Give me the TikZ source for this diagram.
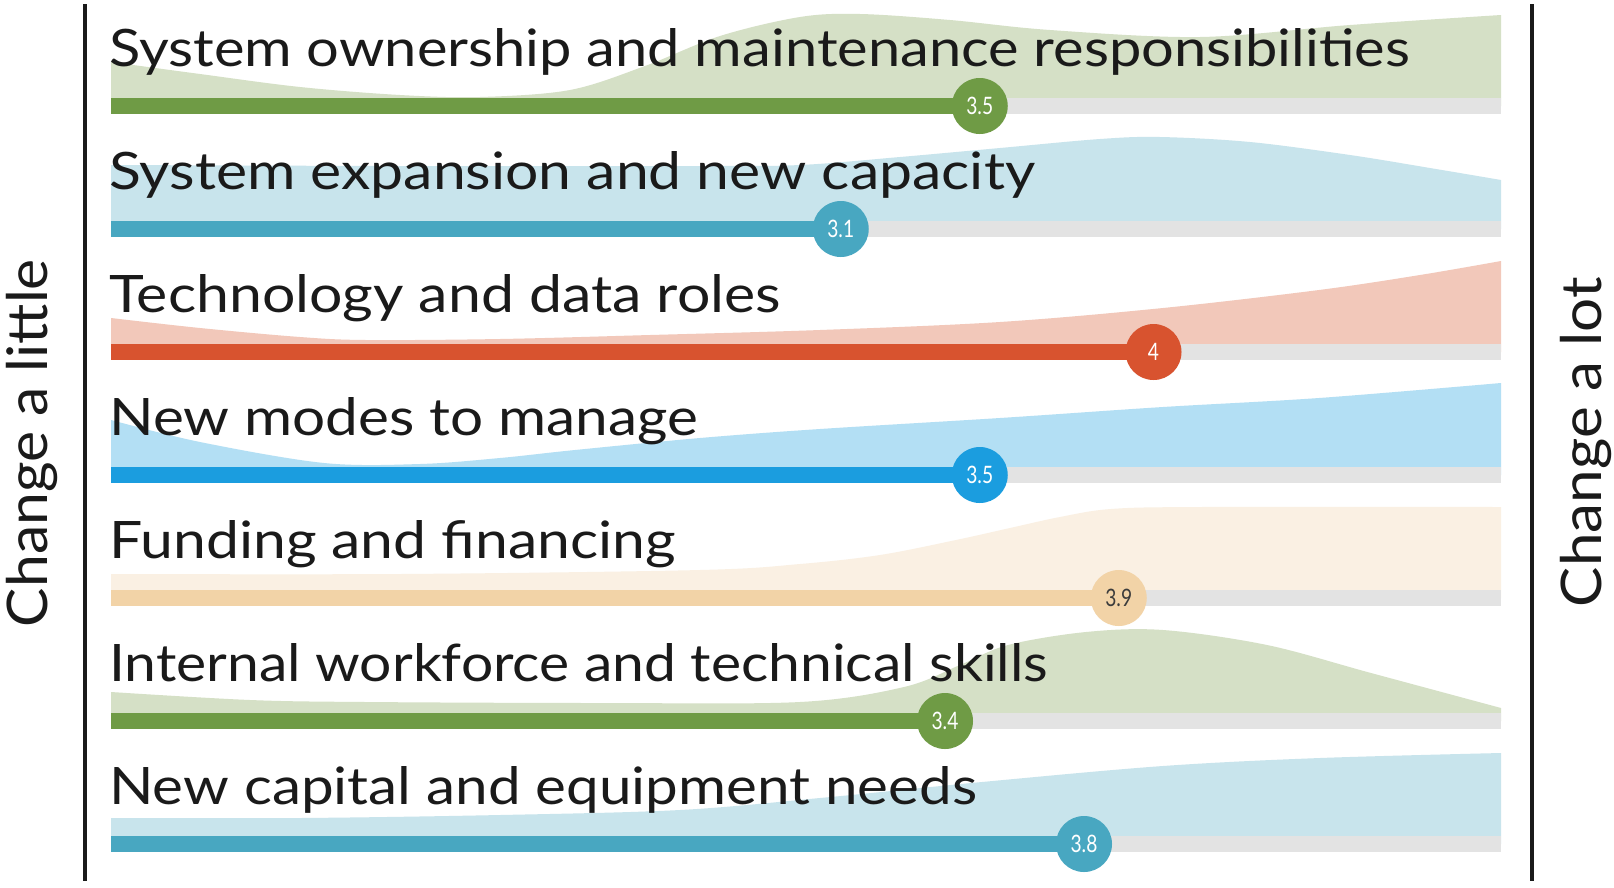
\documentclass[tikz,border=0pt]{standalone}
\usepackage{fontspec}
\setmainfont{Lato}
\usepackage{graphicx}
\definecolor{ink}{HTML}{1A1A1A}
\definecolor{trackgray}{HTML}{E3E3E3}
\definecolor{fgreen}{HTML}{D5E0C6}
\definecolor{bgreen}{HTML}{6F9B45}
\definecolor{fteal}{HTML}{C8E4EC}
\definecolor{bteal}{HTML}{48A7C1}
\definecolor{fred}{HTML}{F2C8BA}
\definecolor{bred}{HTML}{D8532F}
\definecolor{fblue}{HTML}{B3DFF4}
\definecolor{bblue}{HTML}{1B9DDF}
\definecolor{fpeach}{HTML}{FAF0E3}
\definecolor{bpeach}{HTML}{F2D3A7}
\newcommand\rowfont{\fontsize{51.6}{60}\selectfont}
\newcommand\sidefont{\fontsize{56}{64}\selectfont}
\newcommand\valfont{\fontsize{24}{26}\selectfont}
\newcommand\val[1]{\scalebox{0.8}[1]{#1}}
\tikzset{
  lbl/.style={anchor=base west, inner sep=0pt, text=ink, font=\rowfont},
  sidelbl/.style={inner sep=0pt, text=ink, font=\sidefont, rotate=90, anchor=base},
  valnode/.style={circle, inner sep=0pt, minimum size=56pt, font=\valfont, text=white},
  axisline/.style={draw=ink, line width=3.2pt},
  smoothfill/.style={smooth, tension=0.55}
}
\begin{document}
\begin{tikzpicture}[x=1pt,y=-1pt]
\useasboundingbox (0,0) rectangle (1614,887);
\fill[white] (0,0) rectangle (1614,887);

% ---------- density fills ----------
\fill[fgreen] (111,106) -- plot[smoothfill] coordinates {(111,62) (200,74) (300,87) (400,95) (480,97) (570,90) (645,66) (720,36) (800,17) (860,14) (950,20) (1050,30) (1200,37) (1350,25) (1501,15)} -- (1501,106) -- cycle;
\fill[fteal] (111,229) -- plot[smoothfill] coordinates {(111,165) (400,166) (700,166) (800,165) (900,157) (1000,148) (1100,139) (1160,137) (1250,142) (1350,155) (1430,168) (1501,180)} -- (1501,229) -- cycle;
\fill[fred] (111,352) -- plot[smoothfill] coordinates {(111,318) (200,328) (300,337) (366,340) (500,339) (650,335) (820,330) (1000,322) (1163,308) (1319,290) (1420,275) (1501,261)} -- (1501,352) -- cycle;
\fill[fblue] (111,475) -- plot[smoothfill] coordinates {(111,420) (200,442) (324,463) (420,464) (500,458) (575,450) (700,438) (820,429) (1000,418) (1163,407) (1319,398) (1501,383)} -- (1501,475) -- cycle;
\fill[fpeach] (111,598) -- plot[smoothfill] coordinates {(111,574) (400,574) (700,570) (800,564) (880,555) (956,540) (1010,528) (1060,517) (1111,509) (1200,507) (1501,507)} -- (1501,598) -- cycle;
\fill[fgreen] (111,721) -- plot[smoothfill] coordinates {(111,692) (250,700) (366,702) (600,703) (800,702) (904,687) (960,665) (1008,645) (1086,632) (1163,630) (1267,645) (1371,673) (1501,708)} -- (1501,721) -- cycle;
\fill[fteal] (111,844) -- plot[smoothfill] coordinates {(111,818) (300,818) (500,815) (680,810) (820,798) (982,782) (1163,766) (1320,758) (1501,753)} -- (1501,844) -- cycle;

% ---------- tracks ----------
\foreach \c in {106,229,352,475,598,721,844}
  \fill[trackgray] (111,\c-8) rectangle (1501,\c+8);

% ---------- value bars ----------
\fill[bgreen] (111,98)  rectangle (979.75,114);
\fill[bteal]  (111,221) rectangle (840.75,237);
\fill[bred]   (111,344) rectangle (1153.5,360);
\fill[bblue]  (111,467) rectangle (979.75,483);
\fill[bpeach] (111,590) rectangle (1118.75,606);
\fill[bgreen] (111,713) rectangle (945,729);
\fill[bteal]  (111,836) rectangle (1084,852);

% ---------- value markers ----------
\node[valnode, fill=bgreen] (v1) at (979.75,106) {\val{3.5}};
\node[valnode, fill=bteal]  (v2) at (840.75,229) {\val{3.1}};
\node[valnode, fill=bred]   (v3) at (1153.5,352) {\val{4}};
\node[valnode, fill=bblue]  (v4) at (979.75,475) {\val{3.5}};
\node[valnode, fill=bpeach, text=ink!85] (v5) at (1118.75,598) {\val{3.9}};
\node[valnode, fill=bgreen] (v6) at (945,721) {\val{3.4}};
\node[valnode, fill=bteal]  (v7) at (1084,844) {\val{3.8}};

% ---------- row labels ----------
\node[lbl] (l1) at (109,66.5)  {\resizebox{1301pt}{\height}{System ownership and maintenance responsibilities}};
\node[lbl] (l2) at (109,189.5) {\resizebox{926pt}{\height}{System expansion and new capacity}};
\node[lbl] (l3) at (109,312.5) {\resizebox{672pt}{\height}{Technology and data roles}};
\node[lbl] (l4) at (109,435.5) {\resizebox{589pt}{\height}{New modes to manage}};
\node[lbl] (l5) at (109,558.5) {\resizebox{567pt}{\height}{Funding and financing}};
\node[lbl] (l6) at (109,681.5) {\resizebox{939pt}{\height}{Internal workforce and technical skills}};
\node[lbl] (l7) at (109,804.5) {\resizebox{868pt}{\height}{New capital and equipment needs}};

% ---------- axes ----------
\coordinate (at) at (85,4);
\coordinate (ab) at (85,881);
\coordinate (bt) at (1532,4);
\coordinate (bb) at (1532,881);
\draw[axisline] (at) -- (ab);
\draw[axisline] (bt) -- (bb);

\node[sidelbl] (cl) at (47,443) {\resizebox{368pt}{\height}{Change a little}};
\node[sidelbl] (cr) at (1601,442) {\resizebox{330pt}{\height}{Change a lot}};
\end{tikzpicture}
\end{document}
